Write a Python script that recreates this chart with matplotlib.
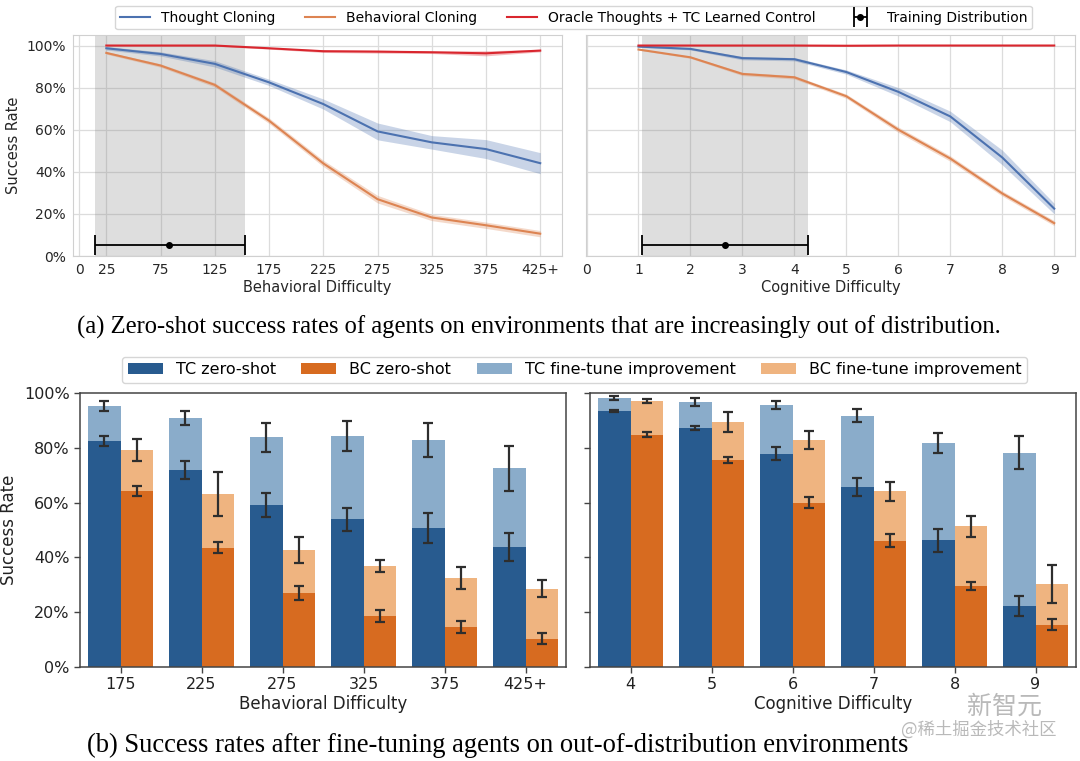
import matplotlib
matplotlib.use("Agg")
import matplotlib.pyplot as plt
import numpy as np
from matplotlib.ticker import PercentFormatter
from matplotlib.legend_handler import HandlerErrorbar

# ---- top row: zero-shot success curves ----
beh_x = [25, 75, 125, 175, 225, 275, 325, 375, 425]
beh_ticks = [0, 25, 75, 125, 175, 225, 275, 325, 375, 425]
beh_ticklabels = ["0", "25", "75", "125", "175", "225", "275", "325", "375", "425+"]
tc_beh = [98.7, 96.0, 91.3, 82.5, 72.2, 59.2, 54.0, 50.8, 44.1]
tc_beh_err = [0.8, 1.0, 1.5, 1.5, 2.4, 4.0, 3.2, 4.5, 5.0]
bc_beh = [96.5, 90.5, 81.3, 64.3, 44.0, 27.0, 18.3, 14.6, 10.6]
bc_beh_err = [0.6, 0.8, 1.0, 1.3, 1.5, 1.8, 1.5, 1.5, 1.5]
or_beh = [100.0, 100.0, 100.0, 98.7, 97.3, 97.1, 96.8, 96.3, 97.6]
or_beh_err = [0.2, 0.2, 0.3, 0.4, 0.6, 0.7, 0.6, 1.2, 0.6]
beh_train = (15, 153, 83)  # low, high, mean

cog_x = [1, 2, 3, 4, 5, 6, 7, 8, 9]
cog_ticks = [0, 1, 2, 3, 4, 5, 6, 7, 8, 9]
tc_cog = [99.5, 98.4, 94.0, 93.5, 87.4, 78.0, 66.3, 46.8, 22.5]
tc_cog_err = [0.3, 0.5, 0.8, 0.8, 1.0, 2.0, 2.5, 3.5, 2.5]
bc_cog = [98.1, 94.4, 86.5, 84.9, 75.9, 60.0, 46.3, 29.7, 15.6]
bc_cog_err = [0.3, 0.5, 0.8, 0.8, 1.0, 1.3, 1.3, 1.2, 1.2]
or_cog = [100.0, 100.0, 100.0, 100.0, 99.9, 100.0, 100.0, 100.0, 100.0]
or_cog_err = [0.1, 0.1, 0.1, 0.1, 0.2, 0.1, 0.1, 0.1, 0.1]
cog_train = (1.07, 4.26, 2.67)

# ---- bottom row: fine-tuning bars ----
beh_cats = ["175", "225", "275", "325", "375", "425+"]
tc_zero_beh = [82.4, 71.9, 59.0, 53.9, 50.7, 43.8]
tc_zero_beh_err = [1.8, 3.4, 4.4, 4.3, 5.4, 5.2]
tc_ft_beh = [95.3, 91.0, 83.8, 84.2, 82.8, 72.5]
tc_ft_beh_err = [1.7, 2.6, 5.4, 5.5, 6.1, 8.3]
bc_zero_beh = [64.2, 43.6, 27.0, 18.6, 14.6, 10.3]
bc_zero_beh_err = [1.7, 2.0, 2.6, 2.1, 2.3, 2.0]
bc_ft_beh = [79.3, 63.3, 42.7, 36.9, 32.4, 28.6]
bc_ft_beh_err = [4.0, 8.0, 4.9, 2.1, 4.1, 3.0]

cog_cats = ["4", "5", "6", "7", "8", "9"]
tc_zero_cog = [93.4, 87.1, 77.9, 65.8, 46.2, 22.3]
tc_zero_cog_err = [0.4, 0.7, 2.5, 3.3, 4.1, 3.5]
tc_ft_cog = [98.2, 96.7, 95.6, 91.8, 81.8, 78.2]
tc_ft_cog_err = [0.8, 1.6, 1.6, 2.4, 3.7, 6.1]
bc_zero_cog = [84.8, 75.5, 59.9, 46.1, 29.6, 15.5]
bc_zero_cog_err = [0.9, 1.0, 2.0, 2.4, 1.5, 2.0]
bc_ft_cog = [97.1, 89.4, 82.7, 64.1, 51.3, 30.3]
bc_ft_cog_err = [0.7, 3.6, 3.3, 3.6, 3.8, 6.9]

TC_LINE = "#4c72b0"
BC_LINE = "#dd8452"
OR_LINE = "#d9262e"
TC_DARK = "#285b8f"
TC_LIGHT = "#8aacca"
BC_DARK = "#d76b20"
BC_LIGHT = "#efb480"
ERR_C = "#2e2e2e"

fig = plt.figure(figsize=(10.8, 7.61), dpi=100)

ax_a1 = fig.add_axes([0.0673, 0.6636, 0.4530, 0.2904])
ax_a2 = fig.add_axes([0.5426, 0.6636, 0.4528, 0.2904])
ax_b1 = fig.add_axes([0.0741, 0.1235, 0.4500, 0.3600])
ax_b2 = fig.add_axes([0.5463, 0.1235, 0.4500, 0.3600])


def line_panel(ax, x, tc, tce, bc, bce, orc, ore, train, xlim, ticks, ticklabels, xlabel, ylab):
    x = np.array(x)
    handles = []
    for y, e, c in [(tc, tce, TC_LINE), (bc, bce, BC_LINE), (orc, ore, OR_LINE)]:
        y = np.array(y) / 100
        e = np.array(e) / 100
        ax.fill_between(x, y - e, y + e, color=c, alpha=0.3, lw=0, zorder=3)
        h, = ax.plot(x, y, color=c, lw=1.5, zorder=4)
        handles.append(h)
    ax.axvspan(train[0], train[1], color="gray", alpha=0.26, lw=0, zorder=1)
    eb = ax.errorbar([train[2]], [0.05], xerr=[[train[2] - train[0]], [train[1] - train[2]]],
                     fmt="o", color="black", ms=4, lw=1.3, capsize=7, capthick=1.3, zorder=5)
    handles.append(eb)
    ax.set_xlim(*xlim)
    ax.set_ylim(0, 1.05)
    ax.set_xticks(ticks)
    ax.set_xticklabels(ticklabels)
    ax.set_yticks([0, 0.2, 0.4, 0.6, 0.8, 1.0])
    ax.yaxis.set_major_formatter(PercentFormatter(1.0, decimals=0))
    ax.grid(True, color="#dcdcdc", lw=0.9, zorder=0)
    ax.set_axisbelow(True)
    for s in ax.spines.values():
        s.set_color("#d0d0d0")
    ax.tick_params(length=0, labelsize=10, colors="#262626", pad=5)
    ax.set_xlabel(xlabel, fontsize=10.5, color="#262626", labelpad=2)
    if ylab:
        ax.set_ylabel("Success Rate", fontsize=10.5, color="#262626")
    else:
        ax.set_yticklabels([])
    return handles


h = line_panel(ax_a1, beh_x, tc_beh, tc_beh_err, bc_beh, bc_beh_err, or_beh, or_beh_err,
               beh_train, (-6, 445), beh_ticks, beh_ticklabels, "Behavioral Difficulty", True)
line_panel(ax_a2, cog_x, tc_cog, tc_cog_err, bc_cog, bc_cog_err, or_cog, or_cog_err,
           cog_train, (-0.01, 9.4), cog_ticks, [str(t) for t in cog_ticks], "Cognitive Difficulty", False)

fig.legend(h, ["Thought Cloning", "Behavioral Cloning", "Oracle Thoughts + TC Learned Control",
               "Training Distribution"],
           loc="center", bbox_to_anchor=(0.531, 0.977), ncol=4, fontsize=10,
           frameon=True, columnspacing=2.1, handlelength=2.2, borderpad=0.35,
           handler_map={type(h[3]): HandlerErrorbar(xerr_size=0.5)})


def bar_panel(ax, cats, tcz, tcze, tcf, tcfe, bcz, bcze, bcf, bcfe, xlabel, ylab):
    pos = np.arange(len(cats))
    w = 0.4
    ek = dict(ecolor=ERR_C, elinewidth=1.6, capsize=3.5, capthick=1.6)
    b1 = ax.bar(pos - w / 2, np.array(tcz) / 100, w, color=TC_DARK, zorder=2)
    b2 = ax.bar(pos + w / 2, np.array(bcz) / 100, w, color=BC_DARK, zorder=2)
    b3 = ax.bar(pos - w / 2, (np.array(tcf) - np.array(tcz)) / 100, w, bottom=np.array(tcz) / 100,
                color=TC_LIGHT, zorder=2)
    b4 = ax.bar(pos + w / 2, (np.array(bcf) - np.array(bcz)) / 100, w, bottom=np.array(bcz) / 100,
                color=BC_LIGHT, zorder=2)
    for off, vals, errs in [(-w / 2, tcz, tcze), (-w / 2, tcf, tcfe), (w / 2, bcz, bcze), (w / 2, bcf, bcfe)]:
        ax.errorbar(pos + off, np.array(vals) / 100, yerr=np.array(errs) / 100, fmt="none", zorder=3, **ek)
    ax.set_xlim(-0.5, len(cats) - 0.5)
    ax.set_ylim(0, 1.0)
    ax.set_xticks(pos)
    ax.set_xticklabels(cats)
    ax.set_yticks([0, 0.2, 0.4, 0.6, 0.8, 1.0])
    ax.yaxis.set_major_formatter(PercentFormatter(1.0, decimals=0))
    for s in ax.spines.values():
        s.set_color("#444444")
        s.set_linewidth(1.1)
    ax.tick_params(labelsize=11.5, colors="#222222", length=4, width=1, color="#444444")
    ax.set_xlabel(xlabel, fontsize=12, color="#222222", labelpad=2)
    if ylab:
        ax.set_ylabel("Success Rate", fontsize=12, color="#222222")
    else:
        ax.set_yticklabels([])
    return [b1, b2, b3, b4]


hb = bar_panel(ax_b1, beh_cats, tc_zero_beh, tc_zero_beh_err, tc_ft_beh, tc_ft_beh_err,
               bc_zero_beh, bc_zero_beh_err, bc_ft_beh, bc_ft_beh_err, "Behavioral Difficulty", True)
bar_panel(ax_b2, cog_cats, tc_zero_cog, tc_zero_cog_err, tc_ft_cog, tc_ft_cog_err,
          bc_zero_cog, bc_zero_cog_err, bc_ft_cog, bc_ft_cog_err, "Cognitive Difficulty", False)

fig.legend(hb, ["TC zero-shot", "BC zero-shot", "TC fine-tune improvement", "BC fine-tune improvement"],
           loc="center", bbox_to_anchor=(0.532, 0.514), ncol=4, fontsize=11.5,
           frameon=True, columnspacing=1.6, handlelength=2.2, borderpad=0.35)

fig.text(0.499, 0.570, "(a) Zero-shot success rates of agents on environments that are increasingly out of distribution.",
         ha="center", va="center", family="Liberation Serif", fontsize=17.7)
fig.text(0.461, 0.020, "(b) Success rates after fine-tuning agents on out-of-distribution environments",
         ha="center", va="center", family="Liberation Serif", fontsize=19.2)

# watermark
fig.text(0.930, 0.071, "新智元", ha="center", va="center", family=["Noto Sans CJK SC", "DejaVu Sans"],
         fontsize=18, color="#a8a8a8", alpha=0.8)
fig.text(0.906, 0.041, "@稀土掘金技术社区", ha="center", va="center", family=["Noto Sans CJK SC", "DejaVu Sans"],
         fontsize=12.5, color="#a8a8a8", alpha=0.8)

fig.savefig("out.png", dpi=100)
